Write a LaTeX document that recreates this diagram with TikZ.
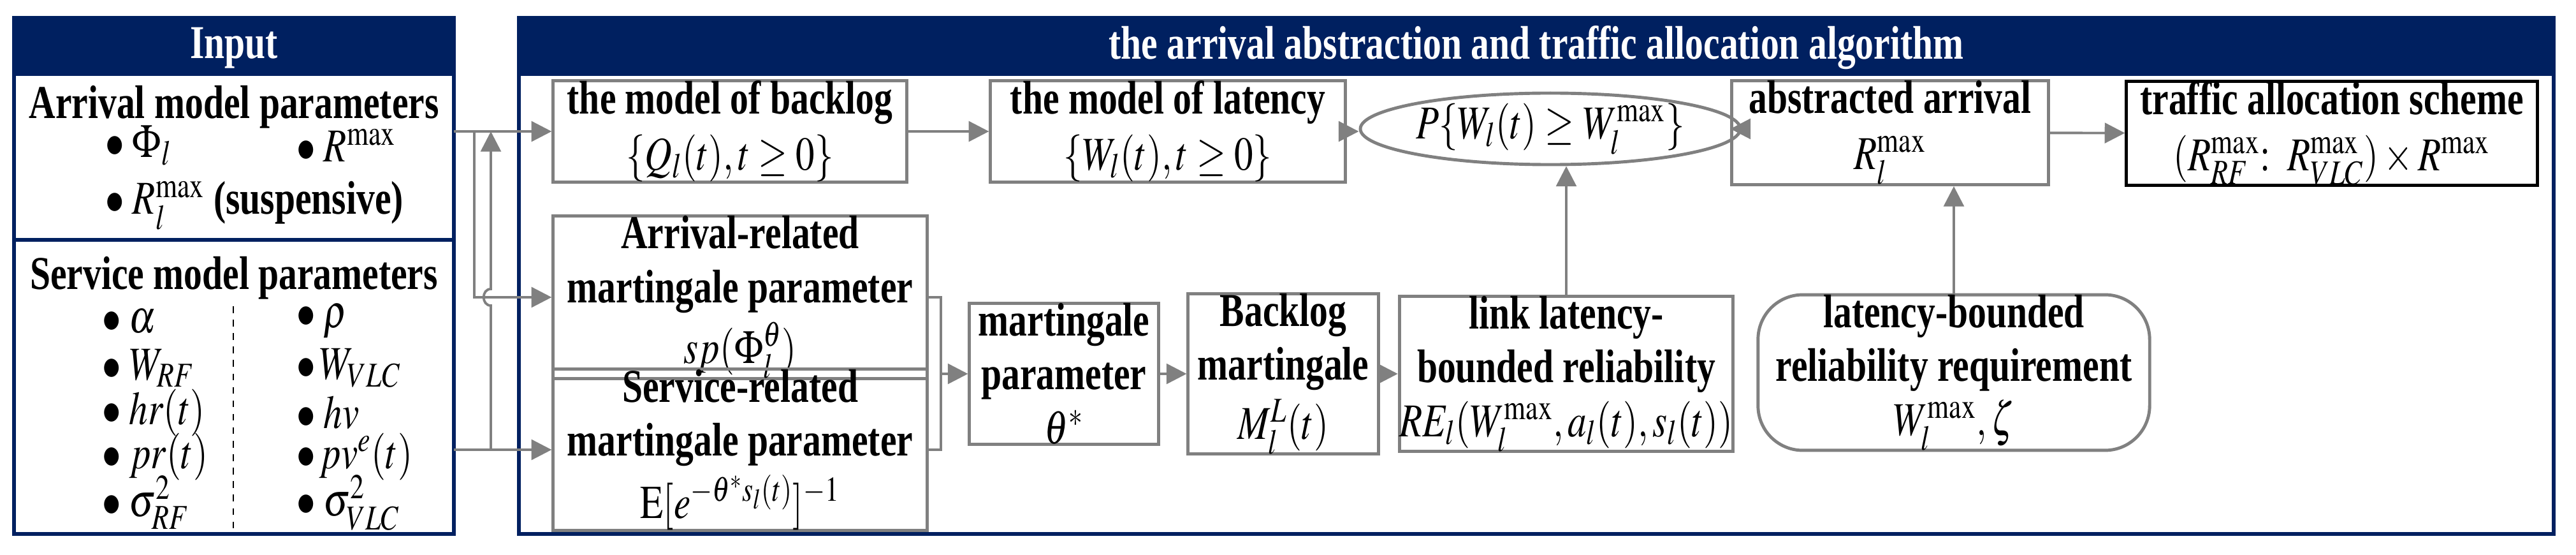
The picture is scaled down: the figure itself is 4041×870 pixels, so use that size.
\documentclass[tikz,border=0pt]{standalone}
\usepackage{mathptmx}
\usepackage{graphicx}
\usepackage{fontspec}
\setmainfont{Liberation Serif}[FakeStretch=0.78]
\usepackage{tikz}
\usetikzlibrary{arrows.meta, shapes.geometric}
\definecolor{navy}{HTML}{002060}
\definecolor{lgray}{HTML}{808080}
\newcommand{\nm}[1]{\scalebox{0.8}[1]{$#1$}}
\tikzset{
  box/.style={draw=lgray, line width=1.4pt, align=center, inner sep=0pt, font=\bfseries},
  arr/.style={draw=lgray, line width=1.1pt, -{Triangle[length=9pt,width=9pt]}},
  wire/.style={draw=lgray, line width=1.1pt},
  panel/.style={draw=navy, line width=1.8pt},
  head/.style={text=white, font=\bfseries}
}
\begin{document}
\fontsize{21}{21}\selectfont
\begin{tikzpicture}[x=0.01cm, y=-0.01cm]
    \useasboundingbox (0,0) rectangle (4041,870);

    % Input panel
    \fill[navy] (22,28) rectangle (712,119);
    \draw[panel] (22,28) rectangle (712,837);
    \draw[panel] (22,376) -- (712,376);
    \node[head] (inT) at (367,75) {Input};
    \node[font=\bfseries] (arrT) at (367,168) {Arrival model parameters};
    \node[anchor=west] (p1) at (140,228) {\nm{\bullet\;\Phi_l}};
    \node[anchor=west] (p2) at (440,228) {\nm{\bullet\;R^{\max}}};
    \node[anchor=west] (p3) at (140,322) {\nm{\bullet\;R_l^{\max}} \textbf{(suspensive)}};
    \node[font=\bfseries] (srvT) at (367,436) {Service model parameters};
    \draw[dashed, line width=0.6pt] (366,480) -- (366,832);
    \node[anchor=west] (s1) at (135,504) {\nm{\bullet\;\alpha}};
    \node[anchor=west] (s2) at (135,577) {\nm{\bullet\;W_{RF}}};
    \node[anchor=west] (s3) at (135,647) {\nm{\bullet\;hr(t)}};
    \node[anchor=west] (s4) at (135,716) {\nm{\bullet\;pr(t)}};
    \node[anchor=west] (s5) at (135,788) {\nm{\bullet\;\sigma^2_{RF}}};
    \node[anchor=west] (r1) at (440,504) {\nm{\bullet\;\rho}};
    \node[anchor=west] (r2) at (440,577) {\nm{\bullet\,W_{VLC}}};
    \node[anchor=west] (r3) at (440,647) {\nm{\bullet\;hv}};
    \node[anchor=west] (r4) at (440,716) {\nm{\bullet\,pv^{e}(t)}};
    \node[anchor=west] (r5) at (440,788) {\nm{\bullet\;\sigma^2_{VLC}}};

    % Algorithm panel
    \fill[navy] (814,28) rectangle (4006,119);
    \draw[panel] (814,28) rectangle (4006,837);
    \node[head] (algT) at (2410,75) {the arrival abstraction and traffic allocation algorithm};

    % Top row
    \node[box, minimum width=5.54cm, minimum height=1.47cm] (backlog) at (1145,206) {the model of backlog\\[4pt] \mdseries\nm{\{Q_l(t),t\geq 0\}}};
    \node[box, minimum width=5.56cm, minimum height=1.47cm] (latency) at (1832,206) {the model of latency\\[4pt] \mdseries\nm{\{W_l(t),t\geq 0\}}};
    \node[box, ellipse, minimum width=3.77cm, minimum height=1.05cm, font=\mdseries] (prob) at (2432,202) {\nm{P\{W_l(t)\geq W_l^{\max}\}}};
    \node[box, minimum width=4.96cm, minimum height=1.48cm] (abstr) at (2965,208) {abstracted arrival\\[4pt] \mdseries\nm{R_l^{\max}}};
    \node[box, draw=black, minimum width=6.44cm, minimum height=1.48cm] (traffic) at (3658,209) {traffic allocation scheme\\[4pt] \mdseries\nm{(R^{\max}_{RF}\mathrm{:}\;\; R^{\max}_{VLC})\times R^{\max}}};

    % Bottom row
    \node[box, minimum width=5.86cm, minimum height=2.18cm] (arrrel) at (1161,466) {Arrival-related\\[3pt] martingale parameter\\[3pt] \mdseries\nm{sp(\Phi_l^{\theta})}};
    \node[box, minimum width=5.86cm, minimum height=2.2cm] (servrel) at (1161,705) {Service-related\\[3pt] martingale parameter\\[3pt] \mdseries\nm{\mathrm{E}[e^{-\theta^{*}s_l(t)}]^{-1}}};
    \node[box, minimum width=2.96cm, minimum height=2.2cm] (mpar) at (1669,586) {martingale\\[3pt] parameter\\[3pt] \mdseries\nm{\theta^{*}}};
    \node[box, minimum width=2.98cm, minimum height=2.2cm] (bmart) at (2013,586) {Backlog\\[3pt] martingale\\[3pt] \mdseries\nm{M_l^{L}(t)}};
    \node[box, minimum width=5.04cm, minimum height=2.2cm] (link) at (2457,586) {link latency-\\[3pt] bounded reliability\\[3pt] \mdseries\nm{RE_l(W_l^{\max},a_l(t),s_l(t))}};
    \node[box, rounded corners=0.7cm, minimum width=6.14cm, minimum height=2.2cm] (req) at (3065,584) {latency-bounded\\[3pt] reliability requirement\\[3pt] \mdseries\nm{W_l^{\max},\zeta}};

    % Connectors from the input
    \coordinate (inA) at (712,206);
    \coordinate (inS) at (712,705);
    \coordinate (busA) at (744,206);
    \coordinate (busS) at (770,705);
    \draw[arr] (inA) -- (backlog.west);
    \draw[arr] (busA) -- (busA |- arrrel.west) -- (arrrel.west);
    \draw[arr] (inS) -- (servrel.west);
    \draw[arr] (busS) -- (770,479) .. controls (755,479) and (755,453) .. (770,453) -- (busS |- inA);

    % Collecting both parameters
    \coordinate (joinA) at (1476,466);
    \coordinate (joinS) at (1476,705);
    \draw[wire] (arrrel.east) -- (joinA) -- (joinS) -- (servrel.east);
    \draw[arr] (joinA |- mpar.west) -- (mpar.west);

    % Chains
    \draw[arr] (backlog) -- (latency);
    \draw[arr] (latency.east) -- (latency.east -| prob.west);
    \draw[arr] (prob.east) -- (prob.east -| abstr.west);
    \draw[arr] (abstr) -- (traffic);
    \draw[arr] (mpar) -- (bmart);
    \draw[arr] (bmart) -- (link);
    \draw[arr] (link.north) -- (link.north |- prob.south);
    \draw[arr] (req.north) -- (req.north |- abstr.south);
\end{tikzpicture}
\end{document}
